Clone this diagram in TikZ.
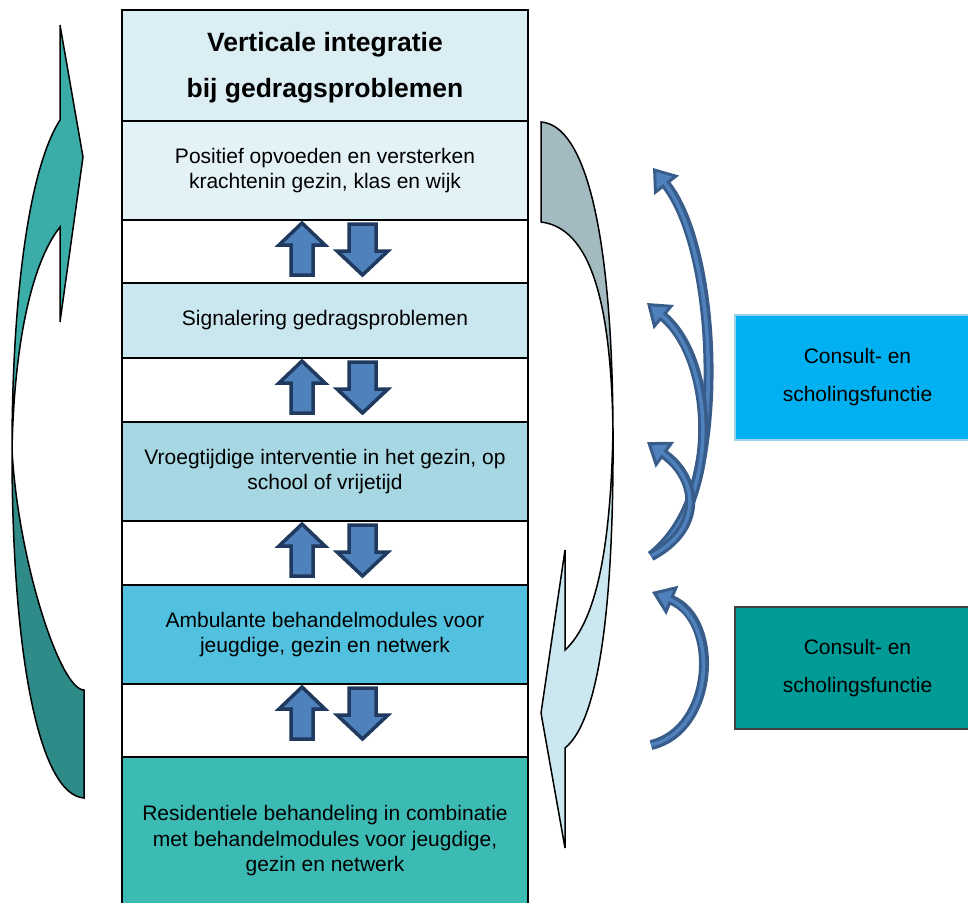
\documentclass[tikz,border=0pt]{standalone}
\usepackage{fontspec}
\setmainfont{Liberation Sans}
\usetikzlibrary{arrows.meta}

\definecolor{kopvak}{HTML}{DAEEF3}
\definecolor{vakeen}{HTML}{E3F2F7}
\definecolor{vaktwee}{HTML}{CAE6EE}
\definecolor{vakdrie}{HTML}{A6D7E2}
\definecolor{vakvier}{HTML}{52C1DF}
\definecolor{vakvijf}{HTML}{3CBBB5}
\definecolor{teallicht}{HTML}{3AADA8}
\definecolor{tealdonker}{HTML}{2E8B87}
\definecolor{grijsblauw}{HTML}{A3BAC1}
\definecolor{ijsblauw}{HTML}{CBE7EF}
\definecolor{pijlvul}{HTML}{4F81BD}
\definecolor{pijlrand}{HTML}{1F3A5E}
\definecolor{boogrand}{HTML}{385D8A}
\definecolor{consultblauw}{HTML}{00B0F0}
\definecolor{consultrand}{HTML}{9BD3EB}
\definecolor{consultteal}{HTML}{009A97}

\begin{document}
\begin{tikzpicture}[x=1pt,y=-1pt,
	vak/.style={draw=black, line width=2.5, minimum width=406, inner sep=0,
		align=center, font=\fontsize{21}{25.5}\selectfont},
	zijvak/.style={line width=2, minimum width=245, minimum height=125, inner sep=0,
		align=center, font=\fontsize{21}{38}\selectfont},
	blokpijl/.style={draw=pijlrand, fill=pijlvul, line width=3.5, line join=miter},
	boog/.style={draw=boogrand, line width=10,
		-{Triangle[width=31,length=22,fill=pijlvul,line width=3pt 0]},
		postaction={draw=pijlvul, line width=3.5, -, shorten >=18}},
	groot/.style={draw=black, line width=1.5}]
	\useasboundingbox (0,0) rectangle (968,902);
	\clip (0,0) rectangle (968,902);

	% kolom met de vijf niveaus
	\draw[line width=2.5] (122,10) -- (122,930);
	\draw[line width=2.5] (528,10) -- (528,930);
	\node[vak, fill=kopvak, minimum height=111] (titel) at (325,65.5) {};
	\node[font=\fontsize{26.5}{46}\selectfont\bfseries, align=center, inner sep=0] (titeltekst) at (325,68) {Verticale integratie\\bij gedragsproblemen};
	\node[vak, fill=vakeen, minimum height=99] (positief) at (325,170.5) {Positief opvoeden en versterken\\krachtenin gezin, klas en wijk};
	\node[vak, fill=vaktwee, minimum height=75] (signaal) at (325,320.5) {Signalering gedragsproblemen};
	\node[vak, fill=vakdrie, minimum height=99] (vroeg) at (325,471.5) {Vroegtijdige interventie in het gezin, op\\school of vrijetijd};
	\node[vak, fill=vakvier, minimum height=99] (ambulant) at (325,634.5) {Ambulante behandelmodules voor\\jeugdige, gezin en netwerk};
	\node[vak, fill=vakvijf, minimum height=168] (residentieel) at (325,841) {Residentiele behandeling in combinatie\\met behandelmodules voor jeugdige,\\gezin en netwerk};

	% op- en neerpijlen tussen de niveaus
	\draw[blokpijl, shift={(0,220)}] (302,3) -- (325,25) -- (313,25) -- (313,55) -- (291,55) -- (291,25) -- (279,25) -- cycle;
	\draw[blokpijl, shift={(0,220)}] (349,4) -- (376,4) -- (376,31) -- (388,31) -- (362.5,55) -- (337,31) -- (349,31) -- cycle;
	\draw[blokpijl, shift={(0,358)}] (302,3) -- (325,25) -- (313,25) -- (313,55) -- (291,55) -- (291,25) -- (279,25) -- cycle;
	\draw[blokpijl, shift={(0,358)}] (349,4) -- (376,4) -- (376,31) -- (388,31) -- (362.5,55) -- (337,31) -- (349,31) -- cycle;
	\draw[blokpijl, shift={(0,521)}] (302,3) -- (325,25) -- (313,25) -- (313,55) -- (291,55) -- (291,25) -- (279,25) -- cycle;
	\draw[blokpijl, shift={(0,521)}] (349,4) -- (376,4) -- (376,31) -- (388,31) -- (362.5,55) -- (337,31) -- (349,31) -- cycle;
	\draw[blokpijl, shift={(0,684)}] (302,3) -- (325,25) -- (313,25) -- (313,55) -- (291,55) -- (291,25) -- (279,25) -- cycle;
	\draw[blokpijl, shift={(0,684)}] (349,4) -- (376,4) -- (376,31) -- (388,31) -- (362.5,55) -- (337,31) -- (349,31) -- cycle;

	% grote pijl links (omhoog)
	\draw[groot, fill=tealdonker] (84,798) .. controls (40,795) and (12,660) .. (12,450) .. controls (18,560) and (60,690) .. (84,690) -- cycle;
	\draw[groot, fill=teallicht] (12,450) .. controls (12,320) and (25,175) .. (60,120) -- (60,25) -- (83,157) -- (60,322) -- (60,227) .. controls (30,265) and (14,350) .. (12,450) -- cycle;

	% grote pijl rechts (omlaag)
	\draw[groot, fill=grijsblauw] (541,122) .. controls (585,125) and (612,230) .. (613,430) .. controls (611,300) and (590,228) .. (541,222) -- cycle;
	\draw[groot, fill=ijsblauw] (613,430) .. controls (614,600) and (600,720) .. (565,748) -- (565,848) -- (541,713) -- (565,550) -- (565,650) .. controls (598,620) and (611,540) .. (613,430) -- cycle;

	% consult- en scholingsvakken
	\node[zijvak, draw=consultrand, fill=consultblauw] (consulteen) at (857.5,377.5) {Consult- en\\scholingsfunctie};
	\node[zijvak, draw=black!75, fill=consultteal, minimum height=122] (consulttwee) at (857.5,668) {Consult- en\\scholingsfunctie};

	% gebogen pijlen vanuit de vakken
	\coordinate (staart) at (651,556);
	\coordinate (kopeen) at (653,168);
	\coordinate (koptwee) at (647,303);
	\coordinate (kopdrie) at (647,442);
	\coordinate (staartlaag) at (651,745);
	\coordinate (koplaag) at (652,592);
	\draw[boog] (staart) .. controls (725,520) and (725,260) .. (kopeen);
	\draw[boog] (staart) .. controls (722,500) and (715,360) .. (koptwee);
	\draw[boog] (staart) .. controls (702,530) and (700,480) .. (kopdrie);
	\draw[boog] (staartlaag) .. controls (715,730) and (720,620) .. (koplaag);
\end{tikzpicture}
\end{document}
